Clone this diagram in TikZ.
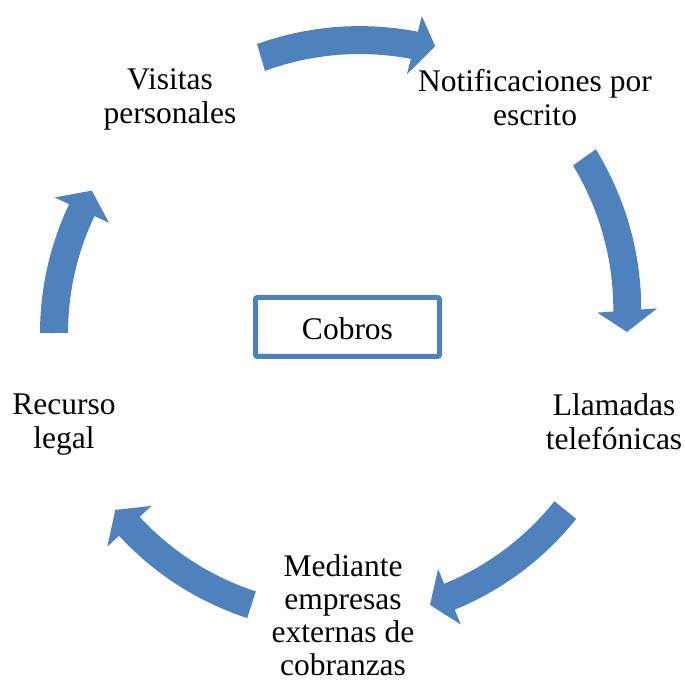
\documentclass[tikz,border=0pt]{standalone}
\usepackage{fontspec}
\setmainfont{Liberation Serif}
\definecolor{arrowblue}{HTML}{4F81BD}
\newcommand\cycarrow[6]{%
  \fill[arrowblue]
    plot[domain=#1:#3, samples=40, variable=\t]
      ({341+((#2)+((#4)-(#2))*(\t-(#1))/((#3)-(#1))+14)*cos(\t)},
       {352+((#2)+((#4)-(#2))*(\t-(#1))/((#3)-(#1))+14)*sin(\t)})
    -- ({341+((#4)+30)*cos(#3)},{352+((#4)+30)*sin(#3)})
    -- ({341+(#6)*cos(#5)},{352+(#6)*sin(#5)})
    -- ({341+((#4)-30)*cos(#3)},{352+((#4)-30)*sin(#3)})
    -- plot[domain=#3:#1, samples=40, variable=\t]
      ({341+((#2)+((#4)-(#2))*(\t-(#1))/((#3)-(#1))-14)*cos(\t)},
       {352+((#2)+((#4)-(#2))*(\t-(#1))/((#3)-(#1))-14)*sin(\t)})
    -- cycle;
}
\tikzset{
  lbl/.style={anchor=north, inner sep=0pt, align=center,
    font=\fontsize{31.5}{34}\selectfont, execute at begin node=\strut},
  centerbox/.style={draw=arrowblue, line width=5pt, rounded corners=2pt,
    minimum width=184pt, minimum height=59pt, inner sep=0pt,
    text height=26pt, text depth=0pt, font=\fontsize{31.5}{34}\selectfont}
}
\begin{document}
\begin{tikzpicture}[x=1pt,y=1pt]
\useasboundingbox (0,0) rectangle (685,683);
% arrows
\cycarrow{106.3}{285}{75.6}{295}{71.7}{300}
\cycarrow{35.5}{299}{4.1}{287}{-0.2}{286}
\cycarrow{-38.6}{287}{-67.8}{287}{-72.0}{288}
\cycarrow{-108.1}{288}{-137.3}{288}{-141.6}{288}
\cycarrow{180.4}{287}{155}{286}{150.6}{286}
% labels
\node[lbl] (visitas) at (170,614.8) {Visitas\\personales};
\node[lbl] (notif) at (535,613.8) {Notificaciones por\\escrito};
\node[lbl] (llamadas) at (614,289.8) {Llamadas\\telefónicas};
\node[lbl, font=\fontsize{31.5}{33}\selectfont] (mediante) at (343,128.3) {Mediante\\empresas\\externas de\\cobranzas};
\node[lbl] (recurso) at (64,289.8) {Recurso\\legal};
\node[centerbox] (cobros) at (347.5,356) {Cobros};
\end{tikzpicture}
\end{document}
